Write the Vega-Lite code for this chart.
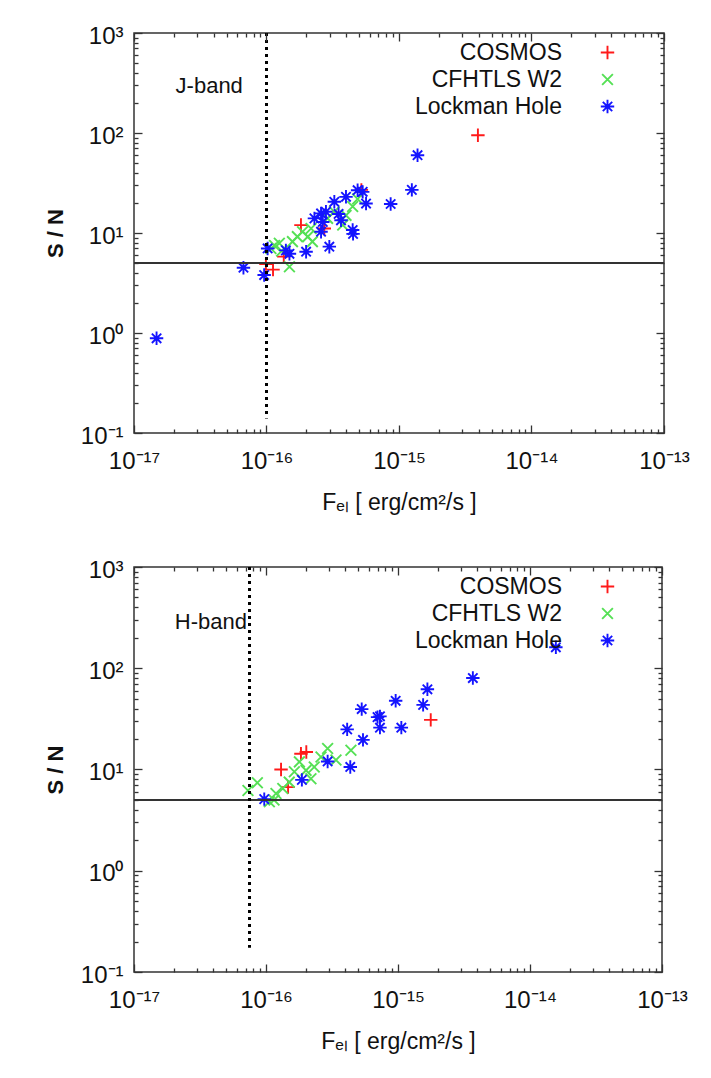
{
  "$schema": "https://vega.github.io/schema/vega-lite/v6.json",
  "background": "white",
  "padding": {"left": 43, "top": 23, "right": 5, "bottom": 5},
  "config": {
    "view": {"stroke": "#333", "strokeWidth": 1.5},
    "font": "Liberation Sans",
    "axis": {"grid": false, "domain": false, "labelFont": "Liberation Sans", "titleFont": "Liberation Sans", "tickColor": "#333", "tickWidth": 1.3, "labelColor": "#111", "titleColor": "#111", "labelOverlap": false, "labelFlush": false, "labelBound": false},
    "legend": {"labelFont": "Liberation Sans"},
    "text": {"font": "Liberation Sans"}
  },
  "datasets": {
    "J": [
      {"F": 3.94e-15, "SN": 95, "survey": "COSMOS"},
      {"F": 1.12e-16, "SN": 4.3, "survey": "COSMOS"},
      {"F": 9.9e-17, "SN": 4.9, "survey": "COSMOS"},
      {"F": 1.35e-16, "SN": 5.8, "survey": "COSMOS"},
      {"F": 1.82e-16, "SN": 12.0, "survey": "COSMOS"},
      {"F": 2.73e-16, "SN": 11.1, "survey": "COSMOS"},
      {"F": 5.2e-16, "SN": 27, "survey": "COSMOS"},
      {"F": 1.08e-16, "SN": 7.0, "survey": "CFHTLS W2"},
      {"F": 1.15e-16, "SN": 7.5, "survey": "CFHTLS W2"},
      {"F": 1.25e-16, "SN": 7.9, "survey": "CFHTLS W2"},
      {"F": 1.3e-16, "SN": 6.6, "survey": "CFHTLS W2"},
      {"F": 1.49e-16, "SN": 4.6, "survey": "CFHTLS W2"},
      {"F": 1.57e-16, "SN": 8.2, "survey": "CFHTLS W2"},
      {"F": 1.71e-16, "SN": 9.2, "survey": "CFHTLS W2"},
      {"F": 1.87e-16, "SN": 10.3, "survey": "CFHTLS W2"},
      {"F": 2.05e-16, "SN": 9.2, "survey": "CFHTLS W2"},
      {"F": 2.17e-16, "SN": 11.1, "survey": "CFHTLS W2"},
      {"F": 2.22e-16, "SN": 8.2, "survey": "CFHTLS W2"},
      {"F": 2.89e-16, "SN": 14.0, "survey": "CFHTLS W2"},
      {"F": 3.25e-16, "SN": 16.3, "survey": "CFHTLS W2"},
      {"F": 3.76e-16, "SN": 12.0, "survey": "CFHTLS W2"},
      {"F": 3.98e-16, "SN": 15.0, "survey": "CFHTLS W2"},
      {"F": 4.47e-16, "SN": 18.4, "survey": "CFHTLS W2"},
      {"F": 4.87e-16, "SN": 21.9, "survey": "CFHTLS W2"},
      {"F": 1.48e-17, "SN": 0.885, "survey": "Lockman Hole"},
      {"F": 6.7e-17, "SN": 4.5, "survey": "Lockman Hole"},
      {"F": 9.6e-17, "SN": 3.8, "survey": "Lockman Hole"},
      {"F": 1.02e-16, "SN": 7.0, "survey": "Lockman Hole"},
      {"F": 1.40e-16, "SN": 6.7, "survey": "Lockman Hole"},
      {"F": 1.49e-16, "SN": 6.2, "survey": "Lockman Hole"},
      {"F": 1.99e-16, "SN": 6.5, "survey": "Lockman Hole"},
      {"F": 2.98e-16, "SN": 7.3, "survey": "Lockman Hole"},
      {"F": 2.3e-16, "SN": 14.0, "survey": "Lockman Hole"},
      {"F": 2.58e-16, "SN": 15.7, "survey": "Lockman Hole"},
      {"F": 2.81e-16, "SN": 16.3, "survey": "Lockman Hole"},
      {"F": 2.66e-16, "SN": 12.9, "survey": "Lockman Hole"},
      {"F": 2.58e-16, "SN": 10.3, "survey": "Lockman Hole"},
      {"F": 3.25e-16, "SN": 20.5, "survey": "Lockman Hole"},
      {"F": 3.5e-16, "SN": 15.5, "survey": "Lockman Hole"},
      {"F": 3.65e-16, "SN": 13.4, "survey": "Lockman Hole"},
      {"F": 3.98e-16, "SN": 23, "survey": "Lockman Hole"},
      {"F": 4.47e-16, "SN": 10.7, "survey": "Lockman Hole"},
      {"F": 4.5e-16, "SN": 9.8, "survey": "Lockman Hole"},
      {"F": 4.87e-16, "SN": 26.8, "survey": "Lockman Hole"},
      {"F": 5.32e-16, "SN": 25.8, "survey": "Lockman Hole"},
      {"F": 5.64e-16, "SN": 19.7, "survey": "Lockman Hole"},
      {"F": 8.65e-16, "SN": 19.5, "survey": "Lockman Hole"},
      {"F": 1.25e-15, "SN": 27, "survey": "Lockman Hole"},
      {"F": 1.38e-15, "SN": 60, "survey": "Lockman Hole"}
    ],
    "H": [
      {"F": 1.77e-15, "SN": 30.9, "survey": "COSMOS"},
      {"F": 1.30e-16, "SN": 10, "survey": "COSMOS"},
      {"F": 1.84e-16, "SN": 14.3, "survey": "COSMOS"},
      {"F": 2.02e-16, "SN": 14.9, "survey": "COSMOS"},
      {"F": 1.47e-16, "SN": 6.7, "survey": "COSMOS"},
      {"F": 8.6e-17, "SN": 7.4, "survey": "CFHTLS W2"},
      {"F": 7.3e-17, "SN": 6.2, "survey": "CFHTLS W2"},
      {"F": 1.06e-16, "SN": 4.8, "survey": "CFHTLS W2"},
      {"F": 1.15e-16, "SN": 5.0, "survey": "CFHTLS W2"},
      {"F": 1.19e-16, "SN": 5.8, "survey": "CFHTLS W2"},
      {"F": 1.34e-16, "SN": 6.5, "survey": "CFHTLS W2"},
      {"F": 1.5e-16, "SN": 7.5, "survey": "CFHTLS W2"},
      {"F": 1.64e-16, "SN": 9.5, "survey": "CFHTLS W2"},
      {"F": 1.79e-16, "SN": 11.9, "survey": "CFHTLS W2"},
      {"F": 2.01e-16, "SN": 9.8, "survey": "CFHTLS W2"},
      {"F": 2.19e-16, "SN": 8.1, "survey": "CFHTLS W2"},
      {"F": 2.32e-16, "SN": 10.6, "survey": "CFHTLS W2"},
      {"F": 2.61e-16, "SN": 13.3, "survey": "CFHTLS W2"},
      {"F": 2.93e-16, "SN": 16.1, "survey": "CFHTLS W2"},
      {"F": 3.39e-16, "SN": 12.4, "survey": "CFHTLS W2"},
      {"F": 4.4e-16, "SN": 15.5, "survey": "CFHTLS W2"},
      {"F": 1.57e-14, "SN": 161, "survey": "Lockman Hole"},
      {"F": 3.69e-15, "SN": 80, "survey": "Lockman Hole"},
      {"F": 1.67e-15, "SN": 62, "survey": "Lockman Hole"},
      {"F": 1.55e-15, "SN": 43.5, "survey": "Lockman Hole"},
      {"F": 9.6e-16, "SN": 47.7, "survey": "Lockman Hole"},
      {"F": 5.31e-16, "SN": 39.5, "survey": "Lockman Hole"},
      {"F": 7.0e-16, "SN": 32.9, "survey": "Lockman Hole"},
      {"F": 7.3e-16, "SN": 33.5, "survey": "Lockman Hole"},
      {"F": 7.3e-16, "SN": 25.9, "survey": "Lockman Hole"},
      {"F": 1.06e-15, "SN": 25.9, "survey": "Lockman Hole"},
      {"F": 4.12e-16, "SN": 24.9, "survey": "Lockman Hole"},
      {"F": 5.43e-16, "SN": 19.6, "survey": "Lockman Hole"},
      {"F": 2.93e-16, "SN": 12.0, "survey": "Lockman Hole"},
      {"F": 4.35e-16, "SN": 10.6, "survey": "Lockman Hole"},
      {"F": 1.87e-16, "SN": 7.9, "survey": "Lockman Hole"},
      {"F": 9.7e-17, "SN": 5.1, "survey": "Lockman Hole"}
    ]
  },
  "resolve": {"scale": {"color": "independent", "shape": "independent"}, "legend": {"color": "independent", "shape": "independent"}},
  "columns": 1,
  "align": "none",
  "spacing": 42,
  "concat": [
    {
      "width": 530, "height": 400,
      "resolve": {"axis": {"x": "independent", "y": "independent"}},
      "layer": [
        {
          "data": {"name": "J"},
          "mark": {"type": "point", "filled": false, "strokeWidth": 1.9, "size": 180, "opacity": 1},
          "encoding": {
            "x": {"field": "F", "type": "quantitative", "scale": {"type": "log", "domain": [1e-17, 1e-13], "nice": false},
              "axis": {"orient": "bottom", "values": [1e-17, 1e-16, 1e-15, 1e-14, 1e-13], "labelExpr": "'10' + ['⁻¹⁷','⁻¹⁶','⁻¹⁵','⁻¹⁴','⁻¹³'][round(log(datum.value)/LN10)+17]", "ticks": false, "labelPadding": 16, "labelFontSize": 24, "title": "Fₑₗ [ erg/cm²/s ]", "titleFontSize": 23, "titleFontWeight": "normal", "titlePadding": 18}},
            "y": {"field": "SN", "type": "quantitative", "scale": {"type": "log", "domain": [0.1, 1000], "nice": false},
              "axis": {"orient": "left", "values": [0.1, 1, 10, 100, 1000], "labelExpr": "'10' + ['⁻¹','⁰','¹','²','³'][round(log(datum.value)/LN10)+1]", "ticks": false, "labelPadding": 11, "labelOffset": 3, "labelFontSize": 24, "title": "S / N", "titleFontSize": 22, "titleFontWeight": "bold", "titlePadding": 13}},
            "color": {"field": "survey", "type": "nominal", "scale": {"domain": ["COSMOS", "CFHTLS W2", "Lockman Hole"], "range": ["#ff1a1a", "#55e055", "#1414ff"]},
              "legend": {"orient": "none", "legendX": 462, "legendY": 8, "title": null, "labelAlign": "right", "labelOffset": -57, "labelFontSize": 23, "labelColor": "#111", "symbolStrokeWidth": 1.9, "symbolSize": 180, "rowPadding": 3, "padding": 0}},
            "shape": {"field": "survey", "type": "nominal", "scale": {"domain": ["COSMOS", "CFHTLS W2", "Lockman Hole"], "range": ["M-1,0L1,0M0,-1L0,1", "M-0.8,-0.8L0.8,0.8M-0.8,0.8L0.8,-0.8", "M-1,0L1,0M0,-1L0,1M-0.7,-0.7L0.7,0.7M-0.7,0.7L0.7,-0.7"]}}
          }
        },
        {
          "data": {"values": [{}]},
          "mark": {"type": "rule", "color": "#333", "strokeWidth": 2},
          "encoding": {"y": {"datum": 5, "type": "quantitative", "axis": null}}
        },
        {
          "data": {"values": [{}]},
          "mark": {"type": "rule", "color": "black", "strokeWidth": 3, "strokeDash": [3, 4]},
          "encoding": {
            "x": {"datum": 1e-16, "type": "quantitative", "axis": null},
            "y": {"datum": 1000, "type": "quantitative", "axis": null},
            "y2": {"datum": 0.14}
          }
        },
        {
          "data": {"values": [{}]},
          "mark": {"type": "text", "text": "J-band", "align": "left", "baseline": "middle", "fontSize": 22, "color": "#111"},
          "encoding": {
            "x": {"datum": 2.06e-17, "type": "quantitative", "axis": null},
            "y": {"datum": 292, "type": "quantitative", "axis": null}
          }
        },
        {
          "data": {"name": "J"},
          "mark": {"type": "point", "opacity": 0},
          "encoding": {
            "x": {"field": "F", "type": "quantitative", "axis": {"orient": "top", "values": [1e-17, 1e-16, 1e-15, 1e-14, 1e-13], "labels": false, "tickSize": 8, "offset": -8, "tickColor": "#333", "zindex": 2, "title": null}},
            "y": {"field": "SN", "type": "quantitative", "axis": {"orient": "right", "values": [0.1, 1, 10, 100, 1000], "labels": false, "tickSize": 8, "offset": -8, "tickColor": "#333", "zindex": 2, "title": null}}
          }
        },
        {
          "data": {"name": "J"},
          "mark": {"type": "point", "opacity": 0},
          "encoding": {
            "x": {"field": "F", "type": "quantitative", "axis": {"orient": "bottom", "values": [1e-17, 1e-16, 1e-15, 1e-14, 1e-13], "labels": false, "tickSize": 8, "offset": -8, "tickColor": "#333", "zindex": 2, "title": null}},
            "y": {"field": "SN", "type": "quantitative", "axis": {"orient": "left", "values": [0.1, 1, 10, 100, 1000], "labels": false, "tickSize": 8, "offset": -8, "tickColor": "#333", "zindex": 2, "title": null}}
          }
        },
        {
          "data": {"name": "J"},
          "mark": {"type": "point", "opacity": 0},
          "encoding": {
            "x": {"field": "F", "type": "quantitative", "axis": {"orient": "bottom", "values": [2e-17,3e-17,4e-17,5e-17,6e-17,7e-17,8e-17,9e-17,2e-16,3e-16,4e-16,5e-16,6e-16,7e-16,8e-16,9e-16,2e-15,3e-15,4e-15,5e-15,6e-15,7e-15,8e-15,9e-15,2e-14,3e-14,4e-14,5e-14,6e-14,7e-14,8e-14,9e-14], "labels": false, "tickSize": 4, "offset": -4, "tickColor": "#333", "zindex": 2, "title": null}},
            "y": {"field": "SN", "type": "quantitative", "axis": {"orient": "left", "values": [0.2,0.3,0.4,0.5,0.6,0.7,0.8,0.9,2,3,4,5,6,7,8,9,20,30,40,50,60,70,80,90,200,300,400,500,600,700,800,900], "labels": false, "tickSize": 4, "offset": -4, "tickColor": "#333", "zindex": 2, "title": null}}
          }
        },
        {
          "data": {"name": "J"},
          "mark": {"type": "point", "opacity": 0},
          "encoding": {
            "x": {"field": "F", "type": "quantitative", "axis": {"orient": "top", "values": [2e-17,3e-17,4e-17,5e-17,6e-17,7e-17,8e-17,9e-17,2e-16,3e-16,4e-16,5e-16,6e-16,7e-16,8e-16,9e-16,2e-15,3e-15,4e-15,5e-15,6e-15,7e-15,8e-15,9e-15,2e-14,3e-14,4e-14,5e-14,6e-14,7e-14,8e-14,9e-14], "labels": false, "tickSize": 4, "offset": -4, "tickColor": "#333", "zindex": 2, "title": null}},
            "y": {"field": "SN", "type": "quantitative", "axis": {"orient": "right", "values": [0.2,0.3,0.4,0.5,0.6,0.7,0.8,0.9,2,3,4,5,6,7,8,9,20,30,40,50,60,70,80,90,200,300,400,500,600,700,800,900], "labels": false, "tickSize": 4, "offset": -4, "tickColor": "#333", "zindex": 2, "title": null}}
          }
        }
      ]
    },
    {
      "width": 528, "height": 405,
      "resolve": {"axis": {"x": "independent", "y": "independent"}},
      "layer": [
        {
          "data": {"name": "H"},
          "mark": {"type": "point", "filled": false, "strokeWidth": 1.9, "size": 180, "opacity": 1},
          "encoding": {
            "x": {"field": "F", "type": "quantitative", "scale": {"type": "log", "domain": [1e-17, 1e-13], "nice": false},
              "axis": {"orient": "bottom", "values": [1e-17, 1e-16, 1e-15, 1e-14, 1e-13], "labelExpr": "'10' + ['⁻¹⁷','⁻¹⁶','⁻¹⁵','⁻¹⁴','⁻¹³'][round(log(datum.value)/LN10)+17]", "ticks": false, "labelPadding": 16, "labelFontSize": 24, "title": "Fₑₗ [ erg/cm²/s ]", "titleFontSize": 23, "titleFontWeight": "normal", "titlePadding": 18}},
            "y": {"field": "SN", "type": "quantitative", "scale": {"type": "log", "domain": [0.1, 1000], "nice": false},
              "axis": {"orient": "left", "values": [0.1, 1, 10, 100, 1000], "labelExpr": "'10' + ['⁻¹','⁰','¹','²','³'][round(log(datum.value)/LN10)+1]", "ticks": false, "labelPadding": 11, "labelOffset": 3, "labelFontSize": 24, "title": "S / N", "titleFontSize": 22, "titleFontWeight": "bold", "titlePadding": 13}},
            "color": {"field": "survey", "type": "nominal", "scale": {"domain": ["COSMOS", "CFHTLS W2", "Lockman Hole"], "range": ["#ff1a1a", "#55e055", "#1414ff"]},
              "legend": {"orient": "none", "legendX": 462, "legendY": 8, "title": null, "labelAlign": "right", "labelOffset": -57, "labelFontSize": 23, "labelColor": "#111", "symbolStrokeWidth": 1.9, "symbolSize": 180, "rowPadding": 3, "padding": 0}},
            "shape": {"field": "survey", "type": "nominal", "scale": {"domain": ["COSMOS", "CFHTLS W2", "Lockman Hole"], "range": ["M-1,0L1,0M0,-1L0,1", "M-0.8,-0.8L0.8,0.8M-0.8,0.8L0.8,-0.8", "M-1,0L1,0M0,-1L0,1M-0.7,-0.7L0.7,0.7M-0.7,0.7L0.7,-0.7"]}}
          }
        },
        {
          "data": {"values": [{}]},
          "mark": {"type": "rule", "color": "#333", "strokeWidth": 2},
          "encoding": {"y": {"datum": 5, "type": "quantitative", "axis": null}}
        },
        {
          "data": {"values": [{}]},
          "mark": {"type": "rule", "color": "black", "strokeWidth": 3, "strokeDash": [3, 4]},
          "encoding": {
            "x": {"datum": 7.5e-17, "type": "quantitative", "axis": null},
            "y": {"datum": 1000, "type": "quantitative", "axis": null},
            "y2": {"datum": 0.174}
          }
        },
        {
          "data": {"values": [{}]},
          "mark": {"type": "text", "text": "H-band", "align": "left", "baseline": "middle", "fontSize": 22, "color": "#111"},
          "encoding": {
            "x": {"datum": 2.04e-17, "type": "quantitative", "axis": null},
            "y": {"datum": 287, "type": "quantitative", "axis": null}
          }
        },
        {
          "data": {"name": "H"},
          "mark": {"type": "point", "opacity": 0},
          "encoding": {
            "x": {"field": "F", "type": "quantitative", "axis": {"orient": "top", "values": [1e-17, 1e-16, 1e-15, 1e-14, 1e-13], "labels": false, "tickSize": 8, "offset": -8, "tickColor": "#333", "zindex": 2, "title": null}},
            "y": {"field": "SN", "type": "quantitative", "axis": {"orient": "right", "values": [0.1, 1, 10, 100, 1000], "labels": false, "tickSize": 8, "offset": -8, "tickColor": "#333", "zindex": 2, "title": null}}
          }
        },
        {
          "data": {"name": "H"},
          "mark": {"type": "point", "opacity": 0},
          "encoding": {
            "x": {"field": "F", "type": "quantitative", "axis": {"orient": "bottom", "values": [1e-17, 1e-16, 1e-15, 1e-14, 1e-13], "labels": false, "tickSize": 8, "offset": -8, "tickColor": "#333", "zindex": 2, "title": null}},
            "y": {"field": "SN", "type": "quantitative", "axis": {"orient": "left", "values": [0.1, 1, 10, 100, 1000], "labels": false, "tickSize": 8, "offset": -8, "tickColor": "#333", "zindex": 2, "title": null}}
          }
        },
        {
          "data": {"name": "H"},
          "mark": {"type": "point", "opacity": 0},
          "encoding": {
            "x": {"field": "F", "type": "quantitative", "axis": {"orient": "bottom", "values": [2e-17,3e-17,4e-17,5e-17,6e-17,7e-17,8e-17,9e-17,2e-16,3e-16,4e-16,5e-16,6e-16,7e-16,8e-16,9e-16,2e-15,3e-15,4e-15,5e-15,6e-15,7e-15,8e-15,9e-15,2e-14,3e-14,4e-14,5e-14,6e-14,7e-14,8e-14,9e-14], "labels": false, "tickSize": 4, "offset": -4, "tickColor": "#333", "zindex": 2, "title": null}},
            "y": {"field": "SN", "type": "quantitative", "axis": {"orient": "left", "values": [0.2,0.3,0.4,0.5,0.6,0.7,0.8,0.9,2,3,4,5,6,7,8,9,20,30,40,50,60,70,80,90,200,300,400,500,600,700,800,900], "labels": false, "tickSize": 4, "offset": -4, "tickColor": "#333", "zindex": 2, "title": null}}
          }
        },
        {
          "data": {"name": "H"},
          "mark": {"type": "point", "opacity": 0},
          "encoding": {
            "x": {"field": "F", "type": "quantitative", "axis": {"orient": "top", "values": [2e-17,3e-17,4e-17,5e-17,6e-17,7e-17,8e-17,9e-17,2e-16,3e-16,4e-16,5e-16,6e-16,7e-16,8e-16,9e-16,2e-15,3e-15,4e-15,5e-15,6e-15,7e-15,8e-15,9e-15,2e-14,3e-14,4e-14,5e-14,6e-14,7e-14,8e-14,9e-14], "labels": false, "tickSize": 4, "offset": -4, "tickColor": "#333", "zindex": 2, "title": null}},
            "y": {"field": "SN", "type": "quantitative", "axis": {"orient": "right", "values": [0.2,0.3,0.4,0.5,0.6,0.7,0.8,0.9,2,3,4,5,6,7,8,9,20,30,40,50,60,70,80,90,200,300,400,500,600,700,800,900], "labels": false, "tickSize": 4, "offset": -4, "tickColor": "#333", "zindex": 2, "title": null}}
          }
        }
      ]
    }
  ]
}
